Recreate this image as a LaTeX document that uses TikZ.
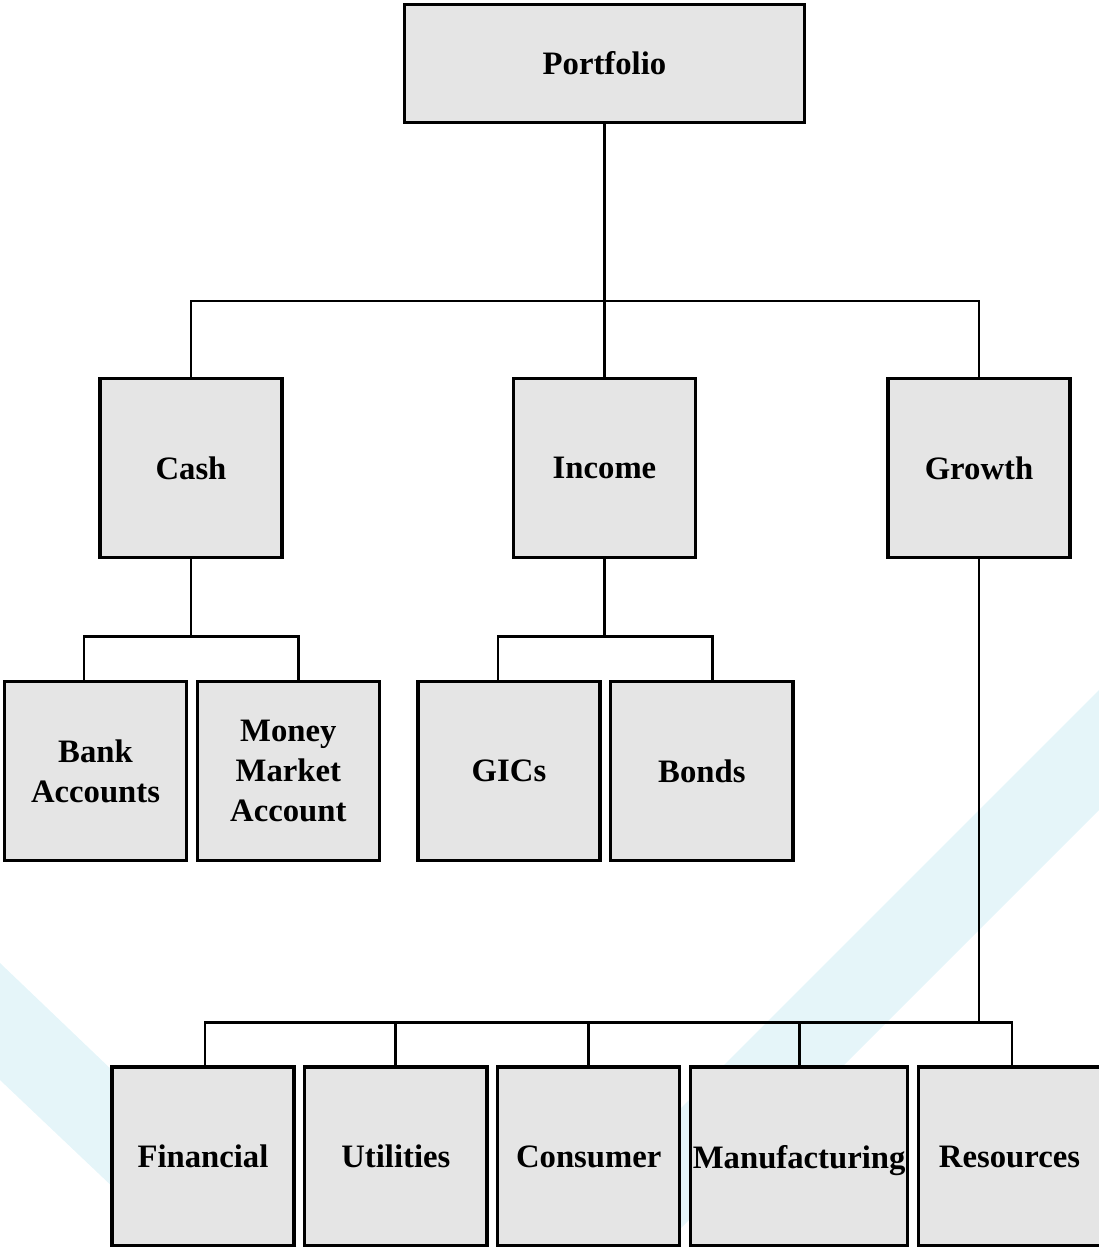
\documentclass[tikz,border=0pt]{standalone}
\usepackage{fontspec}
\setmainfont{Liberation Serif}
\usetikzlibrary{positioning}

\definecolor{boxgray}{RGB}{229,229,229}
\definecolor{bandblue}{RGB}{229,245,249}

\begin{document}
\begin{tikzpicture}[x=0.01cm,y=-0.01cm,node distance=0.076cm,
        box/.style={draw,line width=0.9pt,fill=boxgray,minimum width=1.82cm,
          minimum height=1.79cm,inner sep=0pt,align=center,
          font=\bfseries\fontsize{9.3}{11.3}\selectfont},
        link/.style={line width=0.8pt}]

  \useasboundingbox (0,0) rectangle (1099,1247);

  % background bands
  \fill[bandblue] (0,963) -- (297,1247) -- (176,1247) -- (0,1080) -- cycle;
  \fill[bandblue] (1099,690) -- (542,1247) -- (662,1247) -- (1099,810) -- cycle;

  % top levels
  \node[box,minimum width=4.0cm,minimum height=1.18cm] (portfolio) at (604.5,63.5) {Portfolio};
  \node[box] (cash)   at (191,468) {Cash};
  \node[box] (income) at (604.5,468) {Income};
  \node[box] (growth) at (979,468) {Growth};

  \node[box] (bank)  at (95.5,771) {Bank\\Accounts};
  \node[box] (money) [right=of bank] {Money\\Market\\Account};
  \node[box] (gics)  at (509,771) {GICs};
  \node[box] (bonds) [right=of gics] {Bonds};

  % growth sectors
  \node[box] (financial) at (203,1156.5) {Financial};
  \node[box] (utilities) [right=of financial] {Utilities};
  \node[box] (consumer)  [right=of utilities] {Consumer};
  \node[box,minimum width=2.17cm,text depth=0pt] (manufacturing) [right=of consumer] {Manufacturing};
  \node[box] (resources) [right=of manufacturing] {Resources};

  % connectors
  \coordinate (topbus) at (604.5,301);
  \draw[link] (portfolio.south) -- (income.north);
  \draw[link] (cash.north) |- (topbus) -| (growth.north);

  \draw[link] (cash.south) -- ++(0,77) coordinate (cashbus);
  \draw[link] ([xshift=-0.115cm]bank.north) |- (cashbus) -| ([xshift=0.105cm]money.north);

  \draw[link] (income.south) -- ++(0,77) coordinate (incomebus);
  \draw[link] ([xshift=-0.11cm]gics.north) |- (incomebus) -| ([xshift=0.11cm]bonds.north);

  \draw[link] (growth.south) -- ++(0,463) coordinate (growthbus);
  \draw[link] ([xshift=0.02cm]financial.north) |- (growthbus) -| ([xshift=0.025cm]resources.north);
  \foreach \n in {utilities,consumer,manufacturing}
    \draw[link] (\n.north) -- (\n.north |- growthbus);

\end{tikzpicture}
\end{document}
